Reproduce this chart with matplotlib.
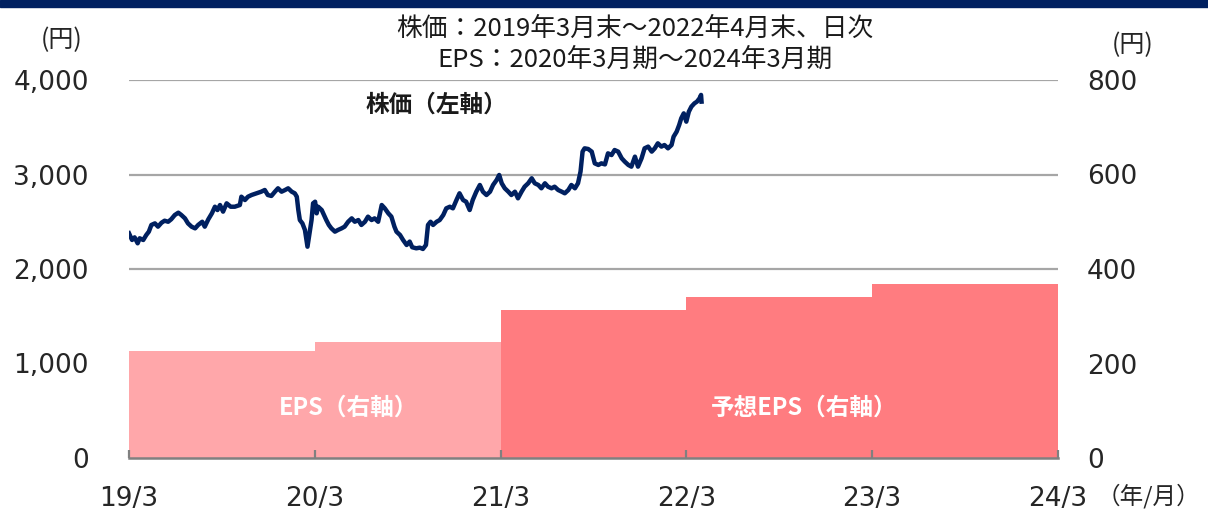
import matplotlib
matplotlib.use("Agg")
import matplotlib.pyplot as plt
from matplotlib.patches import Rectangle
import pandas as pd

plt.rcParams['font.family'] = ['Noto Sans CJK JP', 'DejaVu Sans']

# 株価（左軸）, a few points per week
price_data = [
    ("2019-03-31", 2378), ("2019-04-06", 2307), ("2019-04-11", 2335), ("2019-04-17", 2272),
    ("2019-04-21", 2325), ("2019-04-28", 2307), ("2019-05-04", 2360), ("2019-05-09", 2395),
    ("2019-05-14", 2466), ("2019-05-21", 2483), ("2019-05-27", 2448), ("2019-06-03", 2490),
    ("2019-06-09", 2511), ("2019-06-16", 2500), ("2019-06-22", 2526), ("2019-06-29", 2571),
    ("2019-07-06", 2596), ("2019-07-12", 2571), ("2019-07-19", 2536), ("2019-07-25", 2483),
    ("2019-08-01", 2448), ("2019-08-08", 2430), ("2019-08-14", 2466), ("2019-08-22", 2500),
    ("2019-08-27", 2448), ("2019-09-03", 2526), ("2019-09-10", 2589), ("2019-09-16", 2659),
    ("2019-09-21", 2624), ("2019-09-26", 2677), ("2019-10-02", 2607), ("2019-10-09", 2695),
    ("2019-10-17", 2659), ("2019-10-25", 2659), ("2019-11-04", 2677), ("2019-11-07", 2765),
    ("2019-11-14", 2730), ("2019-11-20", 2765), ("2019-11-27", 2783), ("2019-12-07", 2801),
    ("2019-12-16", 2818), ("2019-12-23", 2836), ("2019-12-29", 2783), ("2020-01-05", 2773),
    ("2020-01-12", 2818), ("2020-01-18", 2854), ("2020-01-25", 2818), ("2020-02-01", 2836),
    ("2020-02-07", 2854), ("2020-02-14", 2818), ("2020-02-20", 2801), ("2020-02-24", 2765),
    ("2020-02-27", 2624), ("2020-03-01", 2518), ("2020-03-06", 2483), ("2020-03-11", 2413),
    ("2020-03-16", 2236), ("2020-03-21", 2413), ("2020-03-24", 2518), ("2020-03-27", 2695),
    ("2020-03-31", 2712), ("2020-04-03", 2589), ("2020-04-06", 2659), ("2020-04-13", 2624),
    ("2020-04-19", 2554), ("2020-04-22", 2518), ("2020-04-27", 2466), ("2020-05-02", 2430),
    ("2020-05-09", 2395), ("2020-05-15", 2413), ("2020-05-22", 2430), ("2020-05-28", 2448),
    ("2020-06-04", 2500), ("2020-06-11", 2536), ("2020-06-17", 2500), ("2020-06-24", 2518),
    ("2020-06-30", 2466), ("2020-07-07", 2500), ("2020-07-13", 2554), ("2020-07-20", 2518),
    ("2020-07-26", 2536), ("2020-08-02", 2500), ("2020-08-09", 2677), ("2020-08-15", 2642),
    ("2020-08-22", 2589), ("2020-08-28", 2554), ("2020-09-03", 2448), ("2020-09-07", 2395),
    ("2020-09-14", 2360), ("2020-09-20", 2307), ("2020-09-27", 2254), ("2020-10-03", 2290),
    ("2020-10-08", 2230), ("2020-10-16", 2219), ("2020-10-23", 2226), ("2020-10-29", 2212),
    ("2020-11-04", 2254), ("2020-11-08", 2466), ("2020-11-13", 2500), ("2020-11-18", 2466),
    ("2020-11-25", 2500), ("2020-12-01", 2518), ("2020-12-08", 2571), ("2020-12-14", 2642),
    ("2020-12-21", 2659), ("2020-12-27", 2642), ("2021-01-03", 2730), ("2021-01-09", 2801),
    ("2021-01-16", 2730), ("2021-01-22", 2712), ("2021-01-29", 2624), ("2021-02-04", 2730),
    ("2021-02-11", 2818), ("2021-02-18", 2889), ("2021-02-24", 2818), ("2021-03-03", 2783),
    ("2021-03-10", 2818), ("2021-03-16", 2889), ("2021-03-23", 2942), ("2021-03-28", 2995),
    ("2021-04-02", 2907), ("2021-04-08", 2854), ("2021-04-15", 2818), ("2021-04-21", 2783),
    ("2021-04-28", 2818), ("2021-05-04", 2748), ("2021-05-11", 2818), ("2021-05-17", 2871),
    ("2021-05-24", 2907), ("2021-05-31", 2960), ("2021-06-06", 2907), ("2021-06-13", 2889),
    ("2021-06-19", 2854), ("2021-06-26", 2907), ("2021-07-02", 2871), ("2021-07-09", 2854),
    ("2021-07-15", 2871), ("2021-07-22", 2836), ("2021-07-29", 2818), ("2021-08-04", 2801),
    ("2021-08-11", 2836), ("2021-08-17", 2889), ("2021-08-24", 2854), ("2021-08-30", 2907),
    ("2021-09-04", 3031), ("2021-09-08", 3242), ("2021-09-12", 3277), ("2021-09-19", 3270),
    ("2021-09-26", 3242), ("2021-10-02", 3118), ("2021-10-09", 3101), ("2021-10-15", 3118),
    ("2021-10-22", 3107), ("2021-10-28", 3224), ("2021-11-04", 3206), ("2021-11-10", 3259),
    ("2021-11-17", 3242), ("2021-11-24", 3171), ("2021-11-30", 3136), ("2021-12-07", 3101),
    ("2021-12-13", 3083), ("2021-12-20", 3189), ("2021-12-26", 3083), ("2022-01-02", 3171),
    ("2022-01-08", 3277), ("2022-01-15", 3295), ("2022-01-22", 3242), ("2022-01-28", 3277),
    ("2022-02-03", 3330), ("2022-02-10", 3295), ("2022-02-16", 3312), ("2022-02-23", 3277),
    ("2022-03-02", 3312), ("2022-03-06", 3400), ("2022-03-12", 3453), ("2022-03-17", 3524),
    ("2022-03-21", 3594), ("2022-03-26", 3647), ("2022-03-31", 3559), ("2022-04-05", 3665),
    ("2022-04-10", 3718), ("2022-04-16", 3753), ("2022-04-21", 3771), ("2022-04-26", 3806),
    ("2022-04-29", 3842), ("2022-04-30", 3771),
]
price_dates = [d for d, _ in price_data]
price = [v for _, v in price_data]

# EPS（右軸）: fiscal years ending March, 2020/3 - 2024/3
eps_edges = ["2019-03-31", "2020-03-31", "2021-03-31", "2022-03-31", "2023-03-31", "2024-03-31"]
eps = [227, 246, 313, 340, 368]
n_actual = 2  # first two are actual, rest forecast

xtick_labels = ["19/3", "20/3", "21/3", "22/3", "23/3", "24/3"]
left_ticks = [0, 1000, 2000, 3000, 4000]
right_ticks = [0, 200, 400, 600, 800]

navy = "#002060"
light_pink = "#FFA7AA"
dark_pink = "#FF7C80"
grid_gray = "#A6A6A6"
text_col = "#262626"

pd_dates = pd.to_datetime(price_dates)
edges = pd.to_datetime(eps_edges)

fig = plt.figure(figsize=(12.08, 5.12), dpi=100)
fig.patches.append(Rectangle((0, 1 - 7 / 512), 1, 7 / 512, transform=fig.transFigure,
                             color=navy, zorder=0))

ax = fig.add_axes([129 / 1208, 1 - 458 / 512, (1058 - 129) / 1208, (458 - 80) / 512])
ax2 = ax.twinx()
ax.set_zorder(ax2.get_zorder() + 1)
ax.patch.set_visible(False)

# EPS areas on the right axis
act_x = list(edges[:n_actual + 1])
act_y = eps[:n_actual] + [eps[n_actual - 1]]
fc_x = list(edges[n_actual:])
fc_y = eps[n_actual:] + [eps[-1]]
ax2.fill_between(act_x, act_y, step="post", color=light_pink, linewidth=0, zorder=2)
ax2.fill_between(fc_x, fc_y, step="post", color=dark_pink, linewidth=0, zorder=2)

ax2.set_ylim(0, 800)
ax2.set_yticks(right_ticks)
ax2.set_axisbelow(True)
ax2.yaxis.grid(True, color=grid_gray, linewidth=1.6, zorder=0)
ax2.tick_params(axis="y", length=0, pad=21, labelsize=19, labelcolor=text_col,
                labelfontfamily="DejaVu Sans")
for s in ax2.spines.values():
    s.set_visible(False)

# stock price on the left axis
ax.plot(pd_dates, price, color=navy, linewidth=3.2)
ax.set_ylim(0, 4000)
ax.set_yticks(left_ticks)
ax.set_yticklabels([f"{v:,}" for v in left_ticks])
ax.tick_params(axis="y", length=0, pad=29, labelsize=19, labelcolor=text_col,
               labelfontfamily="DejaVu Sans")

ax.set_xlim(edges[0], edges[-1])
ax.set_xticks(edges)
ax.set_xticklabels(xtick_labels)
ax.tick_params(axis="x", direction="in", length=6, width=1.6, color="#808080",
               pad=20, labelsize=19, labelcolor=text_col, labelfontfamily="DejaVu Sans")
for name, s in ax.spines.items():
    s.set_visible(name == "bottom")
ax.spines["bottom"].set_color("#808080")
ax.spines["bottom"].set_linewidth(1.8)

# annotations
ax.text(pd.Timestamp("2020-11-24"), 3735, "株価（左軸）", ha="center", va="center",
        fontsize=17, fontweight="bold", color="#1a1a1a")
ax2.text(pd.Timestamp("2020-06-05"), 106, "EPS（右軸）", ha="center", va="center",
         fontsize=17, fontweight="bold", color="white")
ax2.text(pd.Timestamp("2022-11-17"), 106, "予想EPS（右軸）", ha="center", va="center",
         fontsize=17, fontweight="bold", color="white")

fig.text(635 / 1208, 1 - 29 / 512, "株価：2019年3月末～2022年4月末、日次", ha="center",
         va="center", fontsize=18.5, color="#1a1a1a")
fig.text(635 / 1208, 1 - 60 / 512, "EPS：2020年3月期～2024年3月期", ha="center",
         va="center", fontsize=18.5, color="#1a1a1a")
fig.text(62 / 1208, 1 - 40 / 512, "(円)", ha="center", va="center", fontsize=18, color=text_col)
fig.text(1133 / 1208, 1 - 45 / 512, "(円)", ha="center", va="center", fontsize=18, color=text_col)
fig.text(1200 / 1208, 1 - 496 / 512, "（年/月）", ha="right", va="center", fontsize=17,
         color=text_col)

fig.savefig("out.png", dpi=100)
